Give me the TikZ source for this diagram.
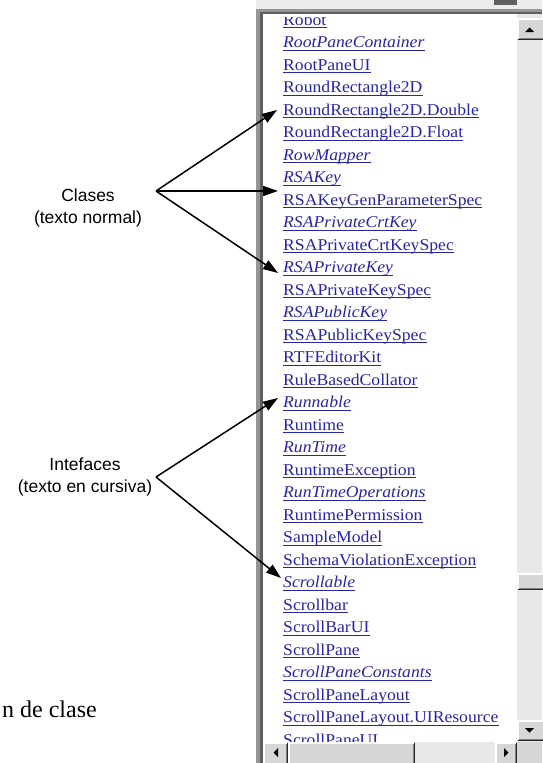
\documentclass[tikz,border=0pt]{standalone}
\usepackage{fontspec}
\setmainfont{Liberation Serif}
\newfontfamily\listfont[FakeStretch=1.07]{Liberation Serif}
\newfontfamily\labelfont{Liberation Sans}
\usetikzlibrary{arrows.meta}

\definecolor{linkblue}{RGB}{38,38,168}
\definecolor{btnface}{RGB}{214,214,214}
\definecolor{btnshadow}{RGB}{128,128,128}
\definecolor{btndark}{RGB}{40,40,40}
\definecolor{trackgray}{RGB}{232,232,232}
\definecolor{framegray}{RGB}{150,150,150}
\definecolor{framedark}{RGB}{95,95,95}

% Raised 3D push button: top-left corner (#1,#2), bottom-right corner (#3,#4)
\newcommand\winbutton[4]{%
  \fill[btnface] (#1,#2) rectangle (#3,#4);
  \draw[white, line width=1.5pt] (#1+1,#4-1) -- (#1+1,#2+1) -- (#3-1,#2+1);
  \draw[btndark, line width=1pt] (#1+0.5,#4-0.5) -- (#3-0.5,#4-0.5) -- (#3-0.5,#2+0.5);
  \draw[btnshadow, line width=1pt] (#1+1.5,#4-1.5) -- (#3-1.5,#4-1.5) -- (#3-1.5,#2+1.5);
}

\tikzset{
  item/.style={anchor=base west, inner sep=0pt, text=linkblue,
    font=\listfont\fontsize{16.5}{18}\selectfont},
  uline/.style={draw=linkblue, line width=0.9pt},
  lbl/.style={align=center, inner sep=0pt,
    font=\labelfont\fontsize{17.5}{22}\selectfont},
  arr/.style={line width=1.5pt, -{Triangle[length=15pt,width=10pt]}},
  glyph/.style={fill=black},
}

\begin{document}
\begin{tikzpicture}[x=1pt,y=-1pt]
\useasboundingbox (0,0) rectangle (542,763);
\fill[white] (0,0) rectangle (542,763);

% window frame above the list
\fill[gray!15] (256,0) rectangle (542,10);
\fill[framedark] (494,0) rectangle (517,5);

% list viewport
\fill[white] (263,14) rectangle (517,742);
\begin{scope}
  \clip (263,17) rectangle (517,742);
  \foreach \txt/\shp [count=\i from 0] in {
      Robot/\relax, RootPaneContainer/\itshape, RootPaneUI/\relax,
      RoundRectangle2D/\relax, RoundRectangle2D.Double/\relax,
      RoundRectangle2D.Float/\relax, RowMapper/\itshape, RSAKey/\itshape,
      RSAKeyGenParameterSpec/\relax, RSAPrivateCrtKey/\itshape,
      RSAPrivateCrtKeySpec/\relax, RSAPrivateKey/\itshape,
      RSAPrivateKeySpec/\relax, RSAPublicKey/\itshape,
      RSAPublicKeySpec/\relax, RTFEditorKit/\relax,
      RuleBasedCollator/\relax, Runnable/\itshape, Runtime/\relax,
      RunTime/\itshape, RuntimeException/\relax,
      RunTimeOperations/\itshape, RuntimePermission/\relax,
      SampleModel/\relax, SchemaViolationException/\relax,
      Scrollable/\itshape, Scrollbar/\relax, ScrollBarUI/\relax,
      ScrollPane/\relax, ScrollPaneConstants/\itshape,
      ScrollPaneLayout/\relax, ScrollPaneLayout.UIResource/\relax,
      ScrollPaneUI/\relax} {
    \node[item] (it\i) at (283,25+22.5*\i) {\shp\txt};
    \draw[uline] ([yshift=-2.5pt]it\i.base west) -- ([yshift=-2.5pt]it\i.base east);
  }
\end{scope}

% sunken frame of the list
\fill[framegray] (256,9) rectangle (542,11.5);
\fill[framedark] (259,11.5) rectangle (542,14);
\fill[framegray] (256,9) rectangle (259.5,763);
\fill[framedark] (259.5,11.5) rectangle (263,763);

% vertical scroll bar
\fill[trackgray] (517,14) rectangle (542,742);
\winbutton{517}{18}{545}{40}
\fill[glyph] (525,32) -- (534,32) -- (529.5,27.5) -- cycle;
\winbutton{517}{573}{545}{590}
\winbutton{517}{720}{545}{741}
\fill[glyph] (525,728) -- (534,728) -- (529.5,732.5) -- cycle;

% horizontal scroll bar
\fill[trackgray] (263,742) rectangle (517,763);
\winbutton{263}{742}{288}{766}
\fill[glyph] (278,748) -- (278,757) -- (273.5,752.5) -- cycle;
\winbutton{288}{742}{415}{766}
\winbutton{495}{742}{517}{766}
\fill[glyph] (504,748) -- (504,757) -- (508.5,752.5) -- cycle;
\fill[btnface] (517,742) rectangle (542,763);

% callout labels
\node[lbl] (clases) at (88,208) {Clases\\(texto normal)};
\node[lbl] (interf) at (85,477) {Intefaces\\(texto en cursiva)};
\coordinate (clsapex) at (156,191);
\coordinate (intapex) at (156,477);

\draw[arr] (clsapex) -- ([shift={(-6pt,5pt)}]it4.base west);
\draw[arr] (clsapex) -- ([shift={(-5pt,-8.5pt)}]it7.base west);
\draw[arr] (clsapex) -- ([shift={(-5pt,-0.5pt)}]it11.base west);
\draw[arr] (intapex) -- ([shift={(-5pt,9.5pt)}]it17.base west);
\draw[arr] (intapex) -- ([shift={(-2pt,9.5pt)}]it25.base west);

% caption fragment
\node[anchor=base east, inner sep=0pt, font=\fontsize{24}{28}\selectfont] (caption) at (97,717) {n de clase};
\end{tikzpicture}
\end{document}
